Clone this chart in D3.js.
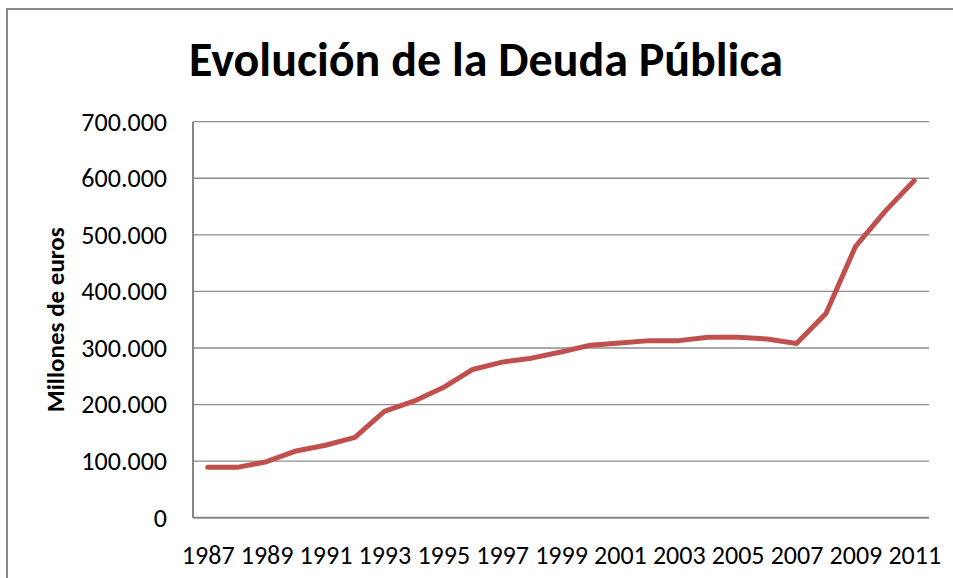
<!DOCTYPE html>
<html>
<head>
<meta charset="utf-8">
<script src="https://cdn.jsdelivr.net/npm/d3@7"></script>
<style>
  body { margin: 0; background: #fff; }
  text { font-family: Carlito, Calibri, Lato, sans-serif; fill: #000; }
</style>
</head>
<body>
<div id="chart"></div>
<script>
// años y deuda (millones de euros)
const years = ['1987','1988','1989','1990','1991','1992','1993','1994','1995','1996','1997','1998',
  '1999','2000','2001','2002','2003','2004','2005','2006','2007','2008','2009','2010','2011'];
const deuda = [89000, 89000, 99000, 118000, 128000, 142000, 188000, 206000, 230000, 262000, 275000, 282000,
  293000, 305000, 309000, 313000, 313000, 319000, 319000, 316000, 308000, 361000, 479000, 541000, 596000];
const yTicks = [0, 100000, 200000, 300000, 400000, 500000, 600000, 700000];
const xLabels = years.filter((d, i) => i % 2 === 0);

const width = 953, height = 578;
const plot = {left: 193, right: 929, top: 121.7, bottom: 517.7};

const svg = d3.select('#chart').append('svg')
  .attr('width', width)
  .attr('height', height);

// marco exterior
svg.append('rect')
  .attr('x', 7).attr('y', 9)
  .attr('width', 960).attr('height', 600)
  .attr('fill', 'none')
  .attr('stroke', '#898989')
  .attr('stroke-width', 2);

svg.append('text')
  .attr('x', 486).attr('y', 76)
  .attr('text-anchor', 'middle')
  .attr('font-size', 48)
  .attr('font-weight', 'bold')
  .text('Evolución de la Deuda Pública');

const x = d3.scalePoint()
  .domain(years)
  .range([plot.left, plot.right])
  .padding(0.5);

const y = d3.scaleLinear()
  .domain([0, 700000])
  .range([plot.bottom, plot.top]);

const fmt = v => v === 0 ? '0' : d3.format(',')(v).replace(/,/g, '.');

// rejilla + eje y
const yAxis = svg.append('g')
  .attr('transform', `translate(${plot.left},0)`)
  .call(d3.axisLeft(y).tickValues(yTicks).tickSize(0).tickPadding(26).tickFormat(fmt));
yAxis.select('.domain').remove();
yAxis.selectAll('text')
  .attr('font-size', 26)
  .attr('font-family', 'Carlito, Calibri, Lato, sans-serif');

svg.append('g')
  .selectAll('line')
  .data(yTicks.filter(d => d > 0))
  .enter()
  .append('line')
  .attr('x1', plot.left).attr('x2', plot.right)
  .attr('y1', d => y(d)).attr('y2', d => y(d))
  .attr('stroke', '#8c8c8c')
  .attr('stroke-width', 1.3);

// eje x
const xAxis = svg.append('g')
  .attr('transform', `translate(0,${plot.bottom})`)
  .call(d3.axisBottom(x).tickValues(xLabels).tickSize(0).tickPadding(28));
xAxis.select('.domain').remove();
xAxis.selectAll('text')
  .attr('font-size', 26)
  .attr('font-family', 'Carlito, Calibri, Lato, sans-serif');

// líneas de ejes
svg.append('line')
  .attr('x1', plot.left).attr('x2', plot.left)
  .attr('y1', plot.top).attr('y2', plot.bottom)
  .attr('stroke', '#868686').attr('stroke-width', 2);
svg.append('line')
  .attr('x1', plot.left).attr('x2', plot.right)
  .attr('y1', plot.bottom).attr('y2', plot.bottom)
  .attr('stroke', '#868686').attr('stroke-width', 2);

svg.append('text')
  .attr('transform', `translate(64,${(plot.top + plot.bottom) / 2}) rotate(-90)`)
  .attr('text-anchor', 'middle')
  .attr('font-size', 25)
  .attr('font-weight', 'bold')
  .text('Millones de euros');

const line = d3.line()
  .x((d, i) => x(years[i]))
  .y(d => y(d));

svg.append('path')
  .datum(deuda)
  .attr('d', line)
  .attr('fill', 'none')
  .attr('stroke', '#C0504D')
  .attr('stroke-width', 5)
  .attr('stroke-linejoin', 'round')
  .attr('stroke-linecap', 'round');
</script>
</body>
</html>
